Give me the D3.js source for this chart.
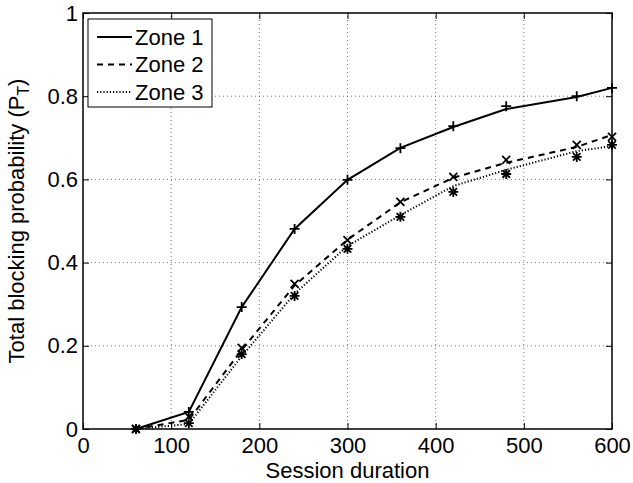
<!DOCTYPE html>
<html>
<head>
<meta charset="utf-8">
<script src="https://cdn.jsdelivr.net/npm/d3@7"></script>
<style>
  body { margin: 0; background: #fff; }
  text { font-family: "Liberation Sans", Arial, Helvetica, sans-serif; }
</style>
</head>
<body>
<div id="chart"></div>
<script>
// session durations (x) shared by every series
const durations = [60, 120, 180, 240, 300, 360, 420, 480, 560, 600]

// curves (lines) and measured points (markers) per zone
const zone1Line = [0, 0.041, 0.293, 0.481, 0.599, 0.676, 0.726, 0.769, 0.798, 0.820]
const zone1Pts  = [0, 0.041, 0.293, 0.481, 0.599, 0.675, 0.728, 0.776, 0.800, 0.820]
const zone2Line = [0, 0.022, 0.190, 0.345, 0.455, 0.545, 0.604, 0.640, 0.678, 0.707]
const zone2Pts  = [0, 0.030, 0.195, 0.349, 0.454, 0.546, 0.606, 0.647, 0.683, 0.702]
const zone3Line = [0, 0.012, 0.175, 0.325, 0.440, 0.514, 0.584, 0.623, 0.668, 0.680]
const zone3Pts  = [0, 0.014, 0.180, 0.320, 0.433, 0.510, 0.570, 0.613, 0.654, 0.683]

const seriesNames = ["Zone 1", "Zone 2", "Zone 3"]
const xTicks = [0, 100, 200, 300, 400, 500, 600]
const yTicks = [0, 0.2, 0.4, 0.6, 0.8, 1]

const width = 633
const height = 483
const margin = {top: 13, right: 21, bottom: 54, left: 83}
const fontSize = 22

const series = [
  {name: seriesNames[0], line: zone1Line, pts: zone1Pts, dash: null, marker: "plus"},
  {name: seriesNames[1], line: zone2Line, pts: zone2Pts, dash: "6,5", marker: "cross"},
  {name: seriesNames[2], line: zone3Line, pts: zone3Pts, dash: "1.2,2", marker: "star"}
]

const svg = d3.select("#chart").append("svg")
  .attr("width", width)
  .attr("height", height)

const x = d3.scaleLinear().domain([0, 600]).range([margin.left, width - margin.right])
const y = d3.scaleLinear().domain([0, 1]).range([height - margin.bottom, margin.top])

const x0 = x.range()[0], x1 = x.range()[1]
const y0 = y.range()[0], y1 = y.range()[1]

// dotted grid
const grid = svg.append("g").attr("stroke", "#555").attr("stroke-width", 0.8).attr("stroke-dasharray", "1,3")
grid.selectAll(".gx").data(xTicks.slice(1, -1)).join("line")
  .attr("x1", d => x(d)).attr("x2", d => x(d))
  .attr("y1", y0).attr("y2", y1)
grid.selectAll(".gy").data(yTicks.slice(1, -1)).join("line")
  .attr("x1", x0).attr("x2", x1)
  .attr("y1", d => y(d)).attr("y2", d => y(d))

// axes with inward ticks on all four sides
const tickLen = 6
const axisB = d3.axisBottom(x).tickValues(xTicks).tickSizeInner(-tickLen).tickSizeOuter(0).tickPadding(8)
const axisT = d3.axisTop(x).tickValues(xTicks).tickSizeInner(-tickLen).tickSizeOuter(0).tickFormat("")
const axisL = d3.axisLeft(y).tickValues(yTicks).tickSizeInner(-tickLen).tickSizeOuter(0).tickPadding(5)
  .tickFormat(d => d3.format("")(+d.toFixed(1)))
const axisR = d3.axisRight(y).tickValues(yTicks).tickSizeInner(-tickLen).tickSizeOuter(0).tickFormat("")

function styleAxis(g) {
  g.select(".domain").remove()
  g.selectAll(".tick line").attr("stroke", "#000").attr("stroke-width", 1)
  g.selectAll(".tick text").attr("fill", "#000").attr("font-size", fontSize)
    .attr("font-family", "Liberation Sans, Arial, sans-serif")
}

svg.append("g").attr("transform", `translate(0,${y0})`).call(axisB).call(styleAxis)
svg.append("g").attr("transform", `translate(0,${y1})`).call(axisT).call(styleAxis)
svg.append("g").attr("transform", `translate(${x0},0)`).call(axisL).call(styleAxis)
svg.append("g").attr("transform", `translate(${x1},0)`).call(axisR).call(styleAxis)

svg.append("rect")
  .attr("x", x0).attr("y", y1)
  .attr("width", x1 - x0).attr("height", y0 - y1)
  .attr("fill", "none").attr("stroke", "#000").attr("stroke-width", 1.5)

// lines
const line = d3.line()
  .x((d, i) => x(durations[i]))
  .y(d => y(d))

svg.append("g").selectAll("path")
  .data(series)
  .join("path")
  .attr("d", d => line(d.line))
  .attr("fill", "none")
  .attr("stroke", "#000")
  .attr("stroke-width", 2)
  .attr("stroke-dasharray", d => d.dash)

// markers
const ms = 5
const markerPath = {
  plus: `M${-ms},0H${ms}M0,${-ms}V${ms}`,
  cross: `M${-ms*0.8},${-ms*0.8}L${ms*0.8},${ms*0.8}M${-ms*0.8},${ms*0.8}L${ms*0.8},${-ms*0.8}`,
  star: `M${-ms},0H${ms}M0,${-ms}V${ms}M${-ms*0.75},${-ms*0.75}L${ms*0.75},${ms*0.75}M${-ms*0.75},${ms*0.75}L${ms*0.75},${-ms*0.75}`
}

series.forEach(s => {
  svg.append("g").selectAll("path")
    .data(s.pts)
    .join("path")
    .attr("transform", (d, i) => `translate(${x(durations[i])},${y(d)})`)
    .attr("d", markerPath[s.marker])
    .attr("fill", "none")
    .attr("stroke", "#000")
    .attr("stroke-width", 1.8)
})

// axis labels
svg.append("text")
  .attr("x", (x0 + x1) / 2)
  .attr("y", 478)
  .attr("text-anchor", "middle")
  .attr("font-size", fontSize)
  .text("Session duration")

const yl = svg.append("text")
  .attr("transform", `translate(24,${(y0 + y1) / 2}) rotate(-90)`)
  .attr("text-anchor", "middle")
  .attr("font-size", fontSize)
yl.append("tspan").text("Total blocking probability (P")
yl.append("tspan").attr("font-size", fontSize * 0.72).attr("dy", 5).text("T")
yl.append("tspan").attr("dy", -5).text(")")

// legend
const lg = svg.append("g")
lg.append("rect")
  .attr("x", 88).attr("y", 19)
  .attr("width", 124).attr("height", 88)
  .attr("fill", "#fff").attr("stroke", "#000").attr("stroke-width", 1)

const rows = lg.selectAll(".row")
  .data(series)
  .join("g")
  .attr("transform", (d, i) => `translate(0,${37 + i * 27.5})`)

rows.append("line")
  .attr("x1", 97).attr("x2", 132)
  .attr("stroke", "#000").attr("stroke-width", 2)
  .attr("stroke-dasharray", d => d.dash)
rows.append("text")
  .attr("x", 135).attr("dy", "0.36em")
  .attr("font-size", fontSize)
  .text(d => d.name)
</script>
</body>
</html>
